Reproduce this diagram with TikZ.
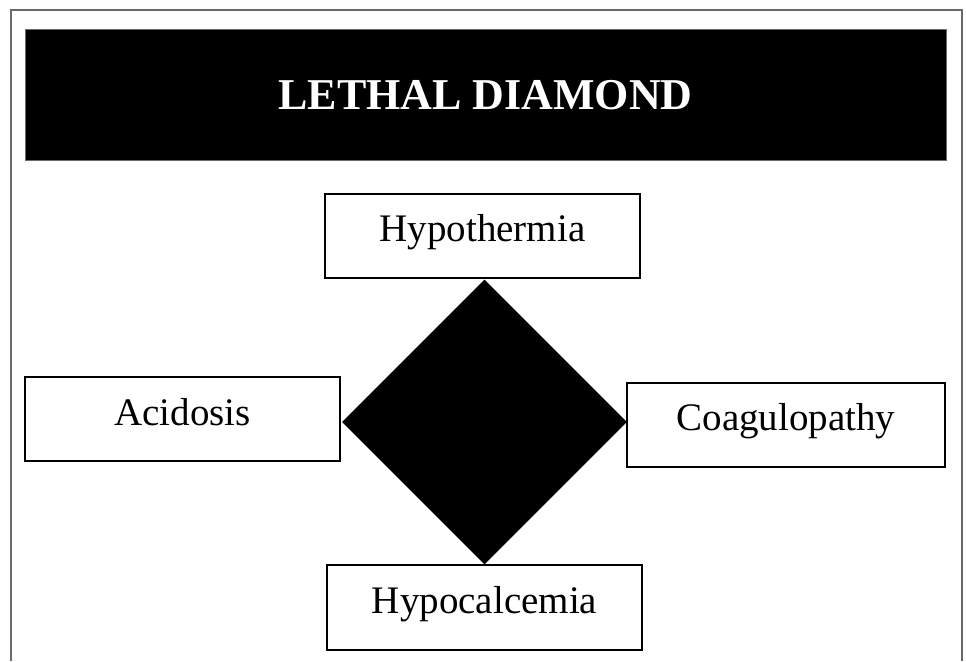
\documentclass[tikz,border=0pt]{standalone}
\usepackage{fontspec}
\setmainfont{Liberation Serif}
\usepackage{tikz}
\usetikzlibrary{positioning}
\usetikzlibrary{shapes.geometric}
\usepackage{xcolor}
\definecolor{framegray}{HTML}{6A6A6A}

\begin{document}
\begin{tikzpicture}[x=1pt, y=1pt,
    factorbox/.style={draw=black, line width=2pt, fill=white, inner sep=0pt,
        minimum width=315pt, minimum height=84pt, text height=12pt, text depth=0pt,
        font=\fontsize{39}{44}\selectfont}]
    \useasboundingbox (0,0) rectangle (966,661);

    % Outer frame (open at the bottom)
    \draw[framegray, line width=1.5pt] (11,0) -- (11,651) -- (962,651) -- (962,0);

    % Title bar
    \node[draw=framegray, line width=0.8pt, fill=black, text=white, inner sep=0pt,
        minimum width=921pt, minimum height=131pt, text height=30pt, text depth=0pt,
        font=\fontsize{44}{50}\selectfont\bfseries] (title) at (485.5,566.5) {LETHAL DIAMOND};

    % Central diamond
    \node[diamond, fill=black, inner sep=0pt, minimum width=285pt, minimum height=285pt] (core) at (484.5,239) {};

    % The four factors
    \node[factorbox] (hypothermia) at (482.5,425) {Hypothermia};
    \node[factorbox] (acidosis) at (182.5,241.5) {Acidosis};
    \node[factorbox, minimum width=318pt] (coagulopathy) at (786,236) {Coagulopathy};
    \node[factorbox] (hypocalcemia) at (484.5,53.5) {Hypocalcemia};
\end{tikzpicture}
\end{document}
